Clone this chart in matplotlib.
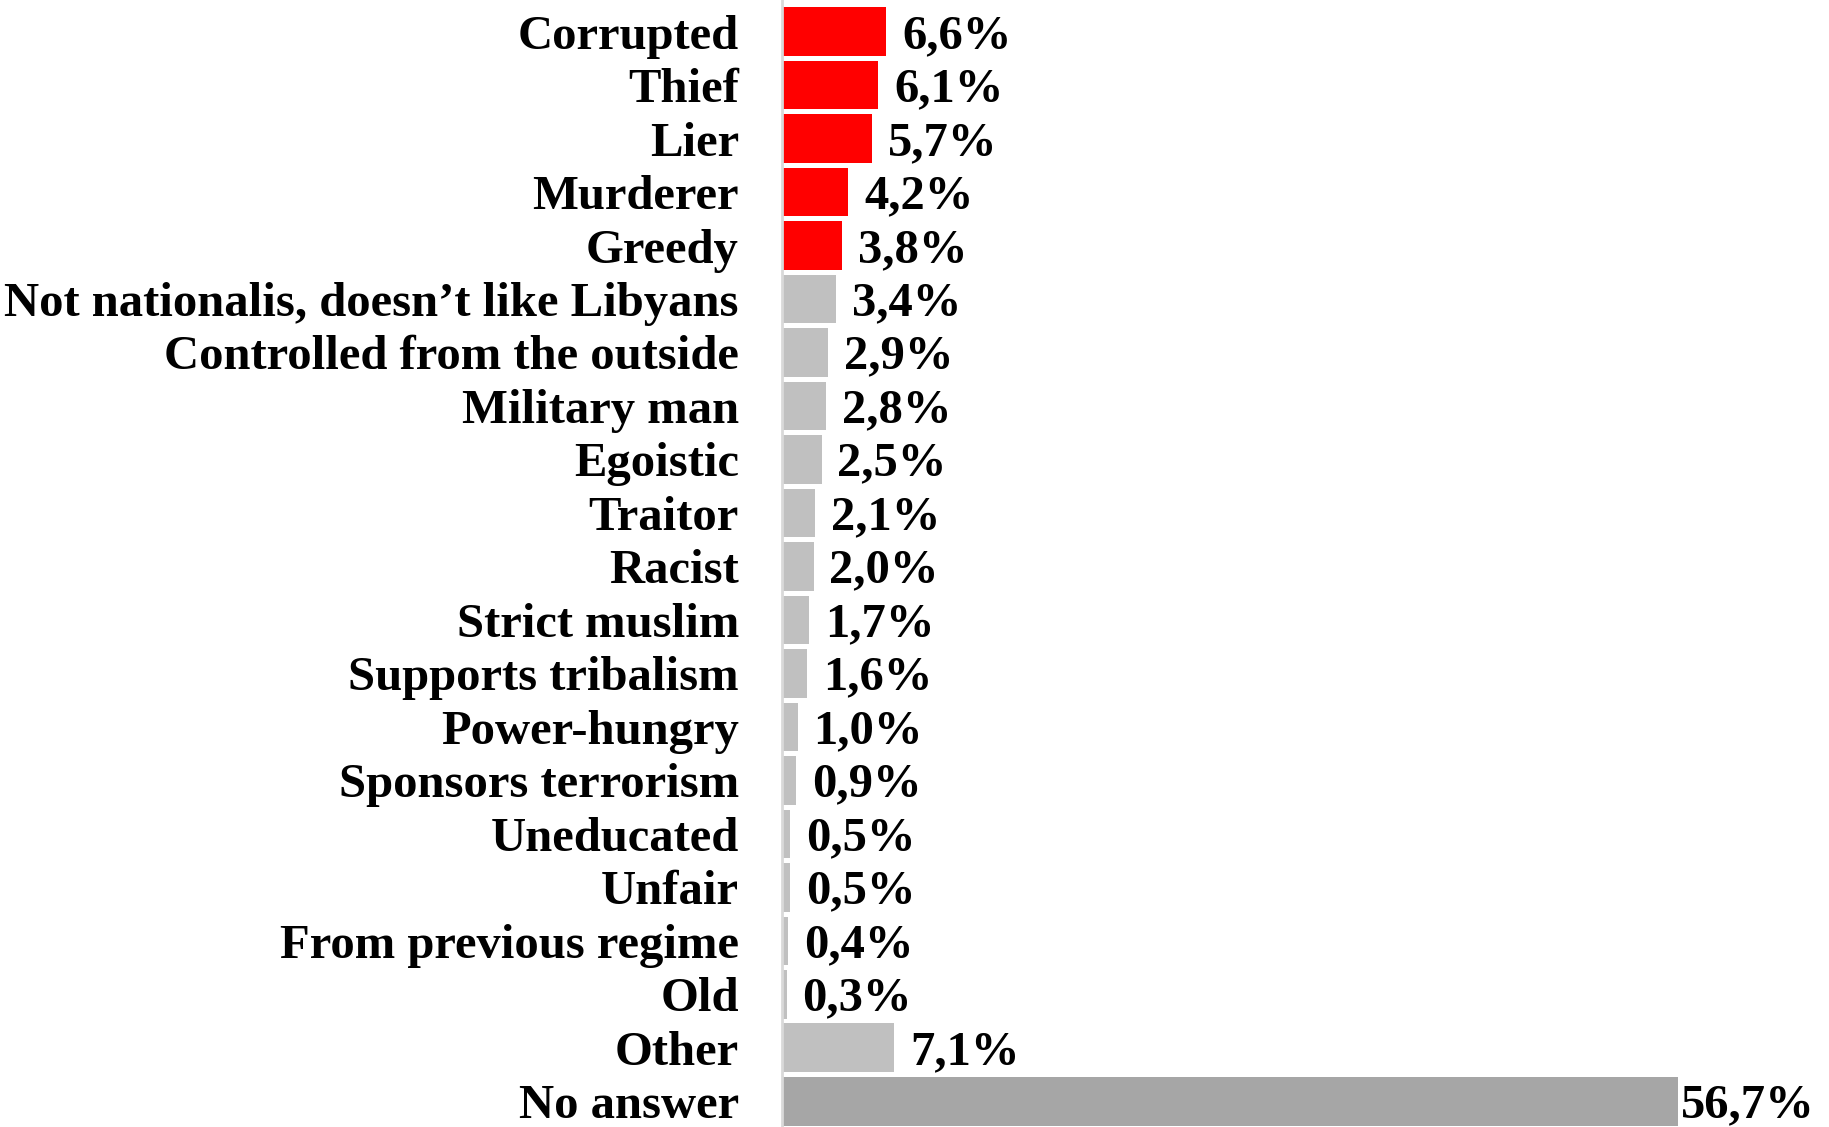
import matplotlib
matplotlib.use("Agg")
import matplotlib.pyplot as plt

categories = ["Corrupted", "Thief", "Lier", "Murderer", "Greedy",
              "Not nationalis, doesn\u2019t like Libyans", "Controlled from the outside",
              "Military man", "Egoistic", "Traitor", "Racist", "Strict muslim",
              "Supports tribalism", "Power-hungry", "Sponsors terrorism", "Uneducated",
              "Unfair", "From previous regime", "Old", "Other", "No answer"]
values = [6.6, 6.1, 5.7, 4.2, 3.8, 3.4, 2.9, 2.8, 2.5, 2.1, 2.0, 1.7,
          1.6, 1.0, 0.9, 0.5, 0.5, 0.4, 0.3, 7.1, 56.7]
colors = ["#FF0000"] * 5 + ["#C0C0C0"] * 15 + ["#A6A6A6"]

plt.rcParams['font.family'] = ['Liberation Serif', 'DejaVu Serif']
plt.rcParams['font.weight'] = 'bold'

fig = plt.figure(figsize=(18.29, 11.27), dpi=100)
ax = fig.add_axes([782 / 1829, 0, 1 - 782 / 1829, 1])

y = list(range(len(categories)))
ax.barh(y, values, height=0.91, color=colors)

for i, v in enumerate(values):
    lab = f"{v:.1f}".replace('.', ',') + '%'
    gap = 1.0 if v < 50 else 0.2
    ax.text(v + gap, i + 0.08, lab, va='center', ha='left', fontsize=35, fontweight='bold')

ax.set_yticks(y)
ax.set_yticklabels(categories, fontsize=35, fontweight='bold')
ax.tick_params(axis='y', length=0, pad=31)
ax.set_xticks([])
ax.set_xlim(0, (1829 - 782) / 15.8)
ax.set_ylim(20.48, -0.59)
for s in ['top', 'right', 'bottom']:
    ax.spines[s].set_visible(False)
ax.spines['left'].set_color('#D9D9D9')
ax.spines['left'].set_linewidth(2)

fig.savefig("out.png", dpi=100)
